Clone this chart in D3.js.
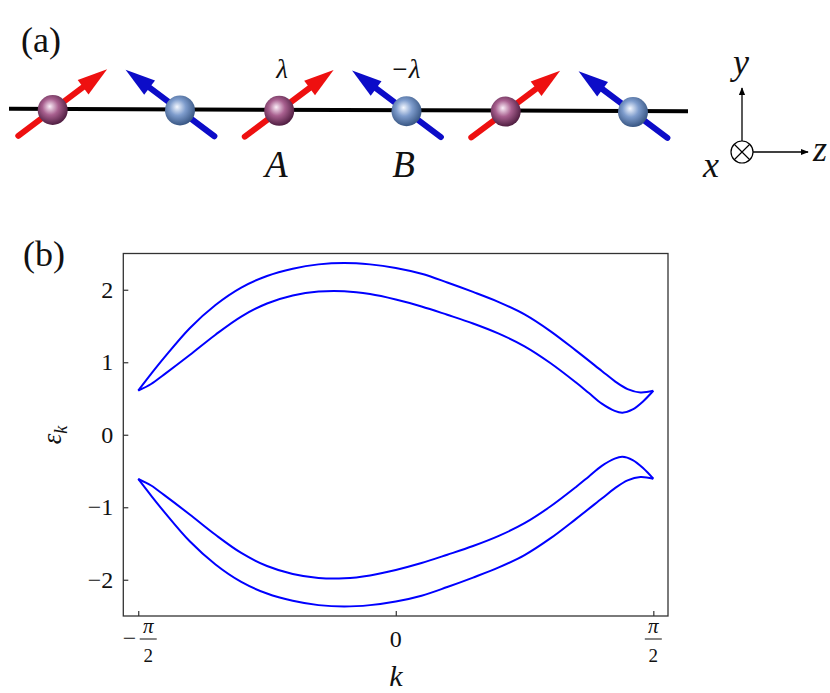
<!DOCTYPE html>
<html>
<head>
<meta charset="utf-8">
<script src="https://cdn.jsdelivr.net/npm/d3@7"></script>
<style>
  body { margin: 0; background: #fff; }
</style>
</head>
<body>
<div id="chart"></div>
<script>
// ---- data ----
// momentum k in units of pi, sampled per curve
var kOuter = [-0.5, -0.475, -0.45, -0.4, -0.35, -0.3, -0.25, -0.2, -0.15, -0.1, -0.05, 0,
              0.05, 0.1, 0.15, 0.2, 0.25, 0.3, 0.35, 0.4, 0.425, 0.45, 0.475, 0.5];
var kInner = [-0.5, -0.475, -0.45, -0.4, -0.35, -0.3, -0.25, -0.2, -0.15, -0.1, -0.05, 0,
              0.05, 0.1, 0.15, 0.2, 0.25, 0.3, 0.35, 0.375, 0.4, 0.425, 0.44, 0.46, 0.48, 0.5];
var upperOuter = [0.61, 0.84, 1.06, 1.47, 1.79, 2.03, 2.19, 2.29, 2.35, 2.37, 2.35, 2.30,
                  2.22, 2.10, 1.97, 1.83, 1.66, 1.43, 1.16, 0.88, 0.74, 0.63, 0.584, 0.607];
var upperInner = [0.61, 0.70, 0.83, 1.10, 1.38, 1.63, 1.81, 1.92, 1.975, 1.98, 1.94, 1.865,
                  1.77, 1.655, 1.535, 1.395, 1.22, 0.99, 0.72, 0.575, 0.43, 0.33, 0.305, 0.35, 0.46, 0.607];
var lowerOuter = [-0.61, -0.84, -1.06, -1.47, -1.79, -2.03, -2.19, -2.29, -2.35, -2.37, -2.35, -2.30,
                  -2.22, -2.10, -1.97, -1.83, -1.66, -1.43, -1.16, -0.88, -0.74, -0.63, -0.584, -0.607];
var lowerInner = [-0.61, -0.70, -0.83, -1.10, -1.38, -1.63, -1.81, -1.92, -1.975, -1.98, -1.94, -1.865,
                  -1.77, -1.655, -1.535, -1.395, -1.22, -0.99, -0.72, -0.575, -0.43, -0.33, -0.305, -0.35, -0.46, -0.607];

var yTicks = [-2, -1, 0, 1, 2];
var xTicksOverPi = [-0.5, 0, 0.5];
var xTickLabels = ["−π/2", "0", "π/2"];

// chain of panel (a): site positions (in unit cells) and spin type
var sitePos = [0, 0.562, 1, 1.562, 2, 2.562];
var siteType = ["A", "B", "A", "B", "A", "B"];
var siteLabels = [null, null, {top: "λ", bottom: "A"}, {top: "−λ", bottom: "B"}, null, null];

(function() {
var W = 830, H = 693;
var FONT = '"Liberation Serif", "Times New Roman", "DejaVu Serif", serif';
var svg = d3.select('#chart').append('svg')
  .attr('width', W)
  .attr('height', H);

var defs = svg.append('defs');
function sphereGrad(id, c0, c1, c2) {
  var g = defs.append('radialGradient').attr('id', id)
    .attr('cx', '45%').attr('cy', '42%').attr('r', '60%').attr('fx', '40%').attr('fy', '38%');
  g.append('stop').attr('offset', '0%').attr('stop-color', c0);
  g.append('stop').attr('offset', '45%').attr('stop-color', c1);
  g.append('stop').attr('offset', '100%').attr('stop-color', c2);
}
sphereGrad('gA', '#fbeef8', '#a8608f', '#4a1a3c');
sphereGrad('gB', '#f4f8ff', '#7e9ccc', '#34527f');

// ---- panel (a) ----
svg.append('text').attr('x', 21).attr('y', 52)
  .style('font-size', '36px').text('(a)');

var zScale = d3.scaleLinear().domain([0, 1]).range([52.7, 279.2]);
var chainY = d3.scaleLinear().domain([0, 1]).range([109, 109.8]);

svg.append('line')
  .attr('x1', 9).attr('x2', 688)
  .attr('y1', chainY(-0.2)).attr('y2', chainY(2.8))
  .attr('stroke', '#000').attr('stroke-width', 4);

var spins = svg.selectAll('g.site')
  .data(sitePos.map(function(p, i) { return {pos: p, type: siteType[i], lab: siteLabels[i]}; }))
  .enter().append('g')
  .attr('class', 'site')
  .attr('transform', function(d) { return 'translate(' + zScale(d.pos) + ',' + (chainY(d.pos) + 1) + ')'; });

spins.each(function(d) {
  var g = d3.select(this);
  var s = d.type === 'A' ? 1 : -1;
  var ux = 0.80 * s, uy = -0.60;
  var tipL = 68, tailL = 43, headL = 30, headW = 9;
  var col = d.type === 'A' ? '#ee1010' : '#0c0cc8';
  var bx = ux * (tipL - headL), by = uy * (tipL - headL);
  g.append('line')
    .attr('x1', -ux * tailL).attr('y1', -uy * tailL)
    .attr('x2', bx).attr('y2', by)
    .attr('stroke', col).attr('stroke-width', 6).attr('stroke-linecap', 'round');
  var px = -uy, py = ux;
  g.append('path')
    .attr('d', 'M' + (ux * tipL) + ',' + (uy * tipL) +
      'L' + (bx + px * headW) + ',' + (by + py * headW) +
      'L' + (bx - px * headW) + ',' + (by - py * headW) + 'Z')
    .attr('fill', col);
  g.append('circle').attr('r', 15)
    .attr('fill', d.type === 'A' ? 'url(#gA)' : 'url(#gB)');
  if (d.lab) {
    g.append('text').attr('x', d.type === 'A' ? 3 : -1).attr('y', -33)
      .attr('text-anchor', 'middle')
      .style('font-size', '27px').style('font-style', 'italic')
      .text(d.lab.top);
    g.append('text').attr('x', -3).attr('y', 66)
      .attr('text-anchor', 'middle')
      .style('font-size', '37px').style('font-style', 'italic')
      .text(d.lab.bottom);
  }
});

// coordinate axes symbol
var ax = svg.append('g').attr('transform', 'translate(742,152)');
defs.append('marker').attr('id', 'ah').attr('viewBox', '0 0 10 10')
  .attr('refX', 9).attr('refY', 5).attr('markerWidth', 8).attr('markerHeight', 8)
  .attr('markerUnits', 'userSpaceOnUse').attr('orient', 'auto')
  .append('path').attr('d', 'M0,1L10,5L0,9Z').attr('fill', '#000');
ax.append('line').attr('x1', 0).attr('y1', -11).attr('x2', 0).attr('y2', -64)
  .attr('stroke', '#000').attr('stroke-width', 1.3).attr('marker-end', 'url(#ah)');
ax.append('line').attr('x1', 11).attr('y1', 0).attr('x2', 66).attr('y2', 0)
  .attr('stroke', '#000').attr('stroke-width', 1.3).attr('marker-end', 'url(#ah)');
ax.append('circle').attr('r', 11).attr('fill', 'none').attr('stroke', '#000').attr('stroke-width', 1.2);
var cr = 11 * Math.SQRT1_2;
ax.append('path').attr('d', 'M' + (-cr) + ',' + (-cr) + 'L' + cr + ',' + cr + 'M' + cr + ',' + (-cr) + 'L' + (-cr) + ',' + cr)
  .attr('stroke', '#000').attr('stroke-width', 1.2);
ax.append('text').attr('x', -1).attr('y', -78).attr('text-anchor', 'middle')
  .style('font-size', '36px').style('font-style', 'italic').text('y');
ax.append('text').attr('x', -31).attr('y', 25).attr('text-anchor', 'middle')
  .style('font-size', '36px').style('font-style', 'italic').text('x');
ax.append('text').attr('x', 78).attr('y', 9).attr('text-anchor', 'middle')
  .style('font-size', '36px').style('font-style', 'italic').text('z');

// ---- panel (b) ----
svg.append('text').attr('x', 23).attr('y', 266)
  .style('font-size', '36px').text('(b)');

var pLeft = 123.3, pRight = 668, pTop = 253.5, pBottom = 616;
var x = d3.scaleLinear().domain([-0.529 * Math.PI, 0.5285 * Math.PI]).range([pLeft, pRight]);
var y = d3.scaleLinear().domain([-2.5, 2.5]).range([pBottom, pTop]);

var plot = svg.append('g');

var yAxis = d3.axisLeft(y).tickValues(yTicks).tickSize(-5).tickPadding(10)
  .tickFormat(function(d) { return d < 0 ? '−' + Math.abs(d) : String(d); });
var gy = plot.append('g').attr('transform', 'translate(' + pLeft + ',0)').call(yAxis);
gy.select('.domain').remove();
gy.selectAll('.tick line').attr('stroke', '#333').attr('stroke-width', 1.2);
gy.selectAll('.tick text').style('font-size', '24px');

var xAxis = d3.axisBottom(x).tickValues(xTicksOverPi.map(function(v) { return v * Math.PI; }))
  .tickSize(-5).tickFormat('');
var gx = plot.append('g').attr('transform', 'translate(0,' + pBottom + ')').call(xAxis);
gx.select('.domain').remove();
gx.selectAll('.tick line').attr('stroke', '#333').attr('stroke-width', 1.2);

xTicksOverPi.forEach(function(v, i) {
  var lab = xTickLabels[i];
  var cx = x(v * Math.PI);
  var g = plot.append('g').attr('transform', 'translate(' + cx + ',' + pBottom + ')');
  if (lab.indexOf('/') < 0) {
    g.append('text').attr('text-anchor', 'middle').attr('y', 31)
      .style('font-size', '24px').text(lab);
    return;
  }
  var neg = lab.charAt(0) === '−';
  var parts = (neg ? lab.slice(1) : lab).split('/');
  var fx = neg ? 10 : 0;
  g.append('text').attr('x', fx).attr('y', 17).attr('text-anchor', 'middle')
    .style('font-size', '21px').style('font-style', 'italic').text(parts[0]);
  g.append('line').attr('x1', fx - 8.5).attr('x2', fx + 8.5).attr('y1', 23).attr('y2', 23)
    .attr('stroke', '#111').attr('stroke-width', 1);
  g.append('text').attr('x', fx).attr('y', 46).attr('text-anchor', 'middle')
    .style('font-size', '19px').text(parts[1]);
  if (neg) {
    g.append('text').attr('x', -2).attr('y', 30).attr('text-anchor', 'end')
      .style('font-size', '24px').text('−');
  }
});

var line = d3.line()
  .x(function(d) { return x(d[0] * Math.PI); })
  .y(function(d) { return y(d[1]); })
  .curve(d3.curveCatmullRom.alpha(0.5));

[[kOuter, upperOuter], [kInner, upperInner], [kInner, lowerInner], [kOuter, lowerOuter]].forEach(function(s) {
  plot.append('path')
    .datum(s[0].map(function(k, i) { return [k, s[1][i]]; }))
    .attr('d', line)
    .attr('fill', 'none')
    .attr('stroke', '#0000ff')
    .attr('stroke-width', 2);
});

plot.append('rect')
  .attr('x', pLeft).attr('y', pTop)
  .attr('width', pRight - pLeft).attr('height', pBottom - pTop)
  .attr('fill', 'none').attr('stroke', '#333').attr('stroke-width', 1.3);

// axis titles
svg.append('text').attr('x', 396).attr('y', 686).attr('text-anchor', 'middle')
  .style('font-size', '30px').style('font-style', 'italic').text('k');
var yl = svg.append('text').attr('transform', 'translate(61,435) rotate(-90)')
  .attr('text-anchor', 'middle').style('font-size', '27px').style('font-style', 'italic');
yl.append('tspan').text('ε');
yl.append('tspan').attr('dy', 6).style('font-size', '18px').text('k');

svg.selectAll('text').style('font-family', FONT).attr('fill', '#111');
})();
</script>
</body>
</html>
